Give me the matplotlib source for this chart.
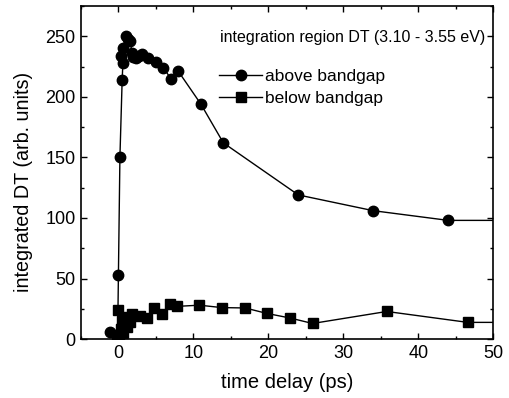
import matplotlib
matplotlib.use('Agg')
import matplotlib.pyplot as plt
from matplotlib.ticker import MultipleLocator

plt.rcParams['font.family'] = ['Liberation Sans', 'DejaVu Sans']

# above bandgap (circles)
t_above = [-1.1, -0.1, 0.0, 0.2, 0.5, 0.6, 0.3, 0.6, 1.0, 1.3, 1.6, 1.8, 2.0,
           2.4, 2.8, 3.2, 4.0, 5.0, 6.0, 7.0, 8.0, 11.0, 14.0, 24.0, 34.0, 44.0, 55.0]
dt_above = [5.5, 3, 53, 150, 214, 228, 234, 240, 250, 248, 246, 236, 233,
            232, 234, 235, 232, 229, 224, 215, 221, 194, 162, 119, 106, 98, 98]

# below bandgap (squares)
t_below = [0.0, -0.2, 0.1, 0.3, 0.5, 0.6, 0.8, 1.0, 1.2, 1.5, 1.8, 2.9, 3.8,
           4.8, 5.8, 6.9, 7.8, 10.8, 13.8, 16.9, 19.8, 22.9, 25.9, 35.8, 46.6, 55.0]
dt_below = [24, 3, 1, 8, 15, 5, 12, 18, 10, 14, 20.5, 19.3, 17.4,
            26, 20.7, 29, 27, 28, 26, 25.7, 21.2, 17.4, 12.9, 22.8, 13.8, 13.8]

fig = plt.figure(figsize=(5.09, 3.98), dpi=100)
ax = fig.add_axes([0.159, 0.148, 0.81, 0.837])

ax.plot(t_above, dt_above, '-o', color='black', lw=1.0, ms=7.5, label='above bandgap')
ax.plot(t_below, dt_below, '-s', color='black', lw=1.0, ms=6.5, label='below bandgap')

ax.set_xlim(-5, 50)
ax.set_ylim(0, 275)
ax.xaxis.set_major_locator(MultipleLocator(10))
ax.xaxis.set_minor_locator(MultipleLocator(5))
ax.yaxis.set_major_locator(MultipleLocator(50))
ax.yaxis.set_minor_locator(MultipleLocator(25))
ax.tick_params(which='both', direction='in', top=True, right=True, width=1.0, labelsize=13)
ax.tick_params(which='major', length=4, pad=4)
ax.tick_params(which='minor', length=2.5)
for s in ax.spines.values():
    s.set_linewidth(1.2)

ax.set_xlabel('time delay (ps)', fontsize=14.5, labelpad=8)
ax.set_ylabel('integrated DT (arb. units)', fontsize=14.2, va='center')
ax.yaxis.set_label_coords(-0.14, 0.471)

ax.text(0.337, 0.905, 'integration region DT (3.10 - 3.55 eV)', transform=ax.transAxes,
        fontsize=11.5, va='center', ha='left')
ax.legend(loc='upper left', bbox_to_anchor=(0.335, 0.81), frameon=False, fontsize=12.5,
          handlelength=2.5, handletextpad=0.15, labelspacing=0.35, borderaxespad=0,
          borderpad=0)

fig.savefig('out.png', dpi=100)
